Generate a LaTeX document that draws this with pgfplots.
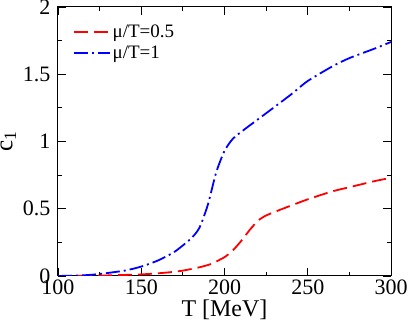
\documentclass[border=0pt]{standalone}
\usepackage{pgfplots}
\pgfplotsset{compat=1.18}
\usetikzlibrary{calc}
\usepackage{fontspec}
\setmainfont{Liberation Serif}
\definecolor{cred}{RGB}{255,0,0}
\definecolor{cblue}{RGB}{0,0,255}
\begin{document}
\begin{tikzpicture}
\begin{axis}[
  name=ax,
  scale only axis,
  width=333pt, height=269pt,
  xmin=100, xmax=300, ymin=0, ymax=2,
  xtick={100,150,200,250,300},
  ytick={0,0.5,1,1.5,2},
  yticklabels={0,0.5,1,1.5,2},
  minor x tick num=1, minor y tick num=1,
  tick align=inside,
  major tick length=8pt, minor tick length=4pt,
  every tick/.style={black, line width=0.8pt},
  axis line style={line width=1pt},
  /pgf/number format/assume math mode=true,
  tick label style={font=\fontsize{22}{24}\selectfont},
  yticklabel style={xshift=-4pt},
  xlabel={T [MeV]},
  ylabel={c$_{\mathrm{1}}$},
  xlabel style={font=\fontsize{24}{26}\selectfont, at={(axis description cs:0.5,-0.088)}, anchor=north, inner sep=0pt},
  ylabel style={font=\fontsize{25}{28}\selectfont, at={(axis description cs:-0.125,0.5)}, anchor=south, inner sep=0pt},
  legend style={at={(0.035,0.95)}, anchor=north west, draw=none, fill=none,
    font=\fontsize{19}{22}\selectfont, row sep=3pt},
  legend cell align=left,
  legend image code/.code={\draw[#1] (0pt,0pt) -- (36pt,0pt);},
]
\addplot[cred, line width=1.8pt, dash pattern=on 14pt off 6pt, smooth, tension=0.4] coordinates {
  (100,0) (125,0.003) (150,0.012) (165,0.025) (175,0.04) (185,0.065) (192,0.09)
  (200,0.14) (205,0.19) (210,0.26) (215,0.34) (220,0.41) (225,0.45)
  (235,0.5) (250,0.57) (265,0.63) (275,0.66) (290,0.705) (300,0.73)
};
\addlegendentry{μ/T=0.5}
\addplot[cblue, line width=1.8pt, dash pattern=on 14pt off 4pt on 2pt off 4pt, smooth, tension=0.4] coordinates {
  (100,0) (115,0.005) (125,0.015) (140,0.04) (150,0.07) (160,0.115) (170,0.18)
  (180,0.28) (185,0.36) (190,0.53) (195,0.77) (200,0.93) (205,1.02)
  (212,1.09) (225,1.21) (240,1.35) (250,1.45) (265,1.56) (275,1.62) (290,1.69) (300,1.74)
};
\addlegendentry{μ/T=1}
\end{axis}
\pgfresetboundingbox
\path ($(ax.south west)+(-58pt,-46pt)$) rectangle ($(ax.north east)+(18pt,7pt)$);
\end{tikzpicture}
\end{document}
